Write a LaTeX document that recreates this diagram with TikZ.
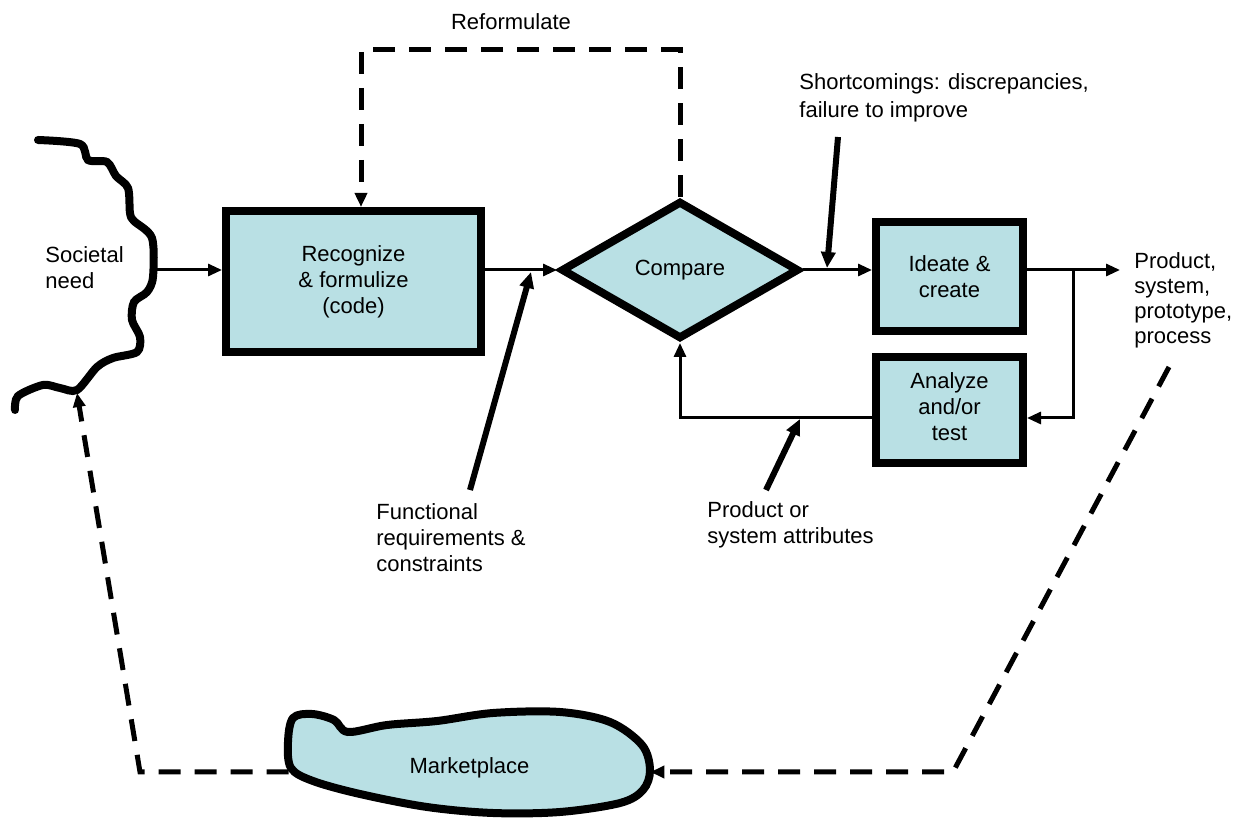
\documentclass[tikz,border=0pt]{standalone}
\usepackage{fontspec}
\setmainfont{Liberation Sans}
\usetikzlibrary{shapes.geometric,arrows.meta}
\definecolor{boxfill}{RGB}{185,224,228}
\tikzset{
  lbl/.style={font=\fontsize{11pt}{13pt}\selectfont, inner sep=0pt, align=left},
  blockbox/.style={draw, line width=4pt, fill=boxfill, lbl, align=center},
  decision/.style={draw, diamond, line width=4pt, fill=boxfill, lbl, align=center,
    minimum width=119pt, minimum height=69pt},
  flowline/.style={line width=1.5pt, -{Triangle[length=7pt,width=6pt]}},
  callout/.style={line width=3pt, -{Triangle[length=8pt,width=7pt]}},
  dashline/.style={line width=2.5pt, dash pattern=on 11pt off 7pt},
  dashtip/.style={dashline, -{Triangle[length=7pt,width=6pt]}}
}
\begin{document}
\begin{tikzpicture}[x=0.5pt,y=-0.5pt]
% canvas in pixels of the reference, y down
\useasboundingbox (0,0) rectangle (1242,822);
% blocks
\node[blockbox, minimum width=127.5pt, minimum height=70.5pt] (recog) at (353.5,281.5)
  {Recognize\\ \& formulize\\ (code)};
\node[decision] (compare) at (680,270) {Compare};
\node[blockbox, minimum width=73.5pt, minimum height=54.5pt] (ideate) at (949.5,276.5)
  {Ideate \&\\ create};
\node[blockbox, minimum width=73.5pt, minimum height=53pt, text depth=3pt] (analyze) at (949.5,410)
  {Analyze\\ and/or\\ test};
% marketplace blob
\draw[line width=4pt, fill=boxfill] plot[smooth cycle, tension=0.55] coordinates {
  (293,718) (312,714) (334,720) (348,732) (387,725) (437,721) (493,713) (560,712)
  (610,722) (642,745) (650,770) (643,790) (620,803) (560,812) (493,813) (427,807)
  (360,794) (313,781) (291,768) (288,742)};
\node[lbl, minimum width=180.5pt, minimum height=40pt] (market) at (469.5,768) {Marketplace};
% societal need boundary
\draw[line width=4pt, line cap=round] plot[smooth, tension=0.5] coordinates {
  (38,140) (80,144) (88,160) (107,162) (116,176) (128,188) (130,213) (134,221)
  (152,238) (153,277) (147,292) (134,302) (132,320) (140,337) (137,352) (113,358)
  (97,367) (77,390) (60,388) (43,385) (18,396) (15,410)};
\node[lbl] (need) at (45,268) [anchor=west] {Societal\\need};
% main flow
\coordinate (wave) at (154,270);
\draw[flowline] (wave) -- (recog.west |- wave);
\draw[flowline] (recog.east |- compare.west) -- (compare.west);
\draw[flowline] (compare.east) -- (ideate.west |- compare.east);
\coordinate (br) at (1073,270);
\coordinate (out) at (1120,270);
\draw[flowline] (ideate.east |- br) -- (out);
\coordinate (fb) at (680,418);
\draw[flowline] (br) -- (br |- fb) -- (analyze.east |- fb);
\draw[flowline] (analyze.west |- fb) -- (fb) -- (compare.south);
% reformulate loop
\coordinate (rtop) at (361,50);
\draw[dashtip] (compare.north) |- (rtop) -- (rtop |- recog.north);
\node[lbl] (reform) at (511,22) {Reformulate};
% callouts
\coordinate (sctail) at (838,137);
\coordinate (schead) at (827,268);
\draw[callout] (sctail) -- (schead);
\node[lbl, anchor=north west, font=\fontsize{11pt}{14pt}\selectfont] (short) at (799,73)
  {Shortcomings: discrepancies,\\failure to improve};
\coordinate (frtail) at (470,490);
\coordinate (frhead) at (531,272);
\draw[callout] (frtail) -- (frhead);
\node[lbl, anchor=north west] (funct) at (376,503) {Functional\\requirements \&\\constraints};
\coordinate (patail) at (766,490);
\coordinate (pahead) at (800,419);
\draw[callout] (patail) -- (pahead);
\node[lbl, anchor=north west] (attr) at (707,501) {Product or\\system attributes};
\node[lbl, anchor=north west, font=\fontsize{11pt}{12.5pt}\selectfont] (prod) at (1134,252)
  {Product,\\system,\\prototype,\\process};
% market loop
\coordinate (rtail) at (1169,367);
\coordinate (rcorner) at (953,772);
\draw[dashtip] (rtail) -- (rcorner) -- (market.east |- rcorner);
\coordinate (lcorner) at (140,772);
\coordinate (lhead) at (77,393);
\draw[dashtip] (market.west |- lcorner) -- (lcorner) -- (lhead);
\end{tikzpicture}
\end{document}
